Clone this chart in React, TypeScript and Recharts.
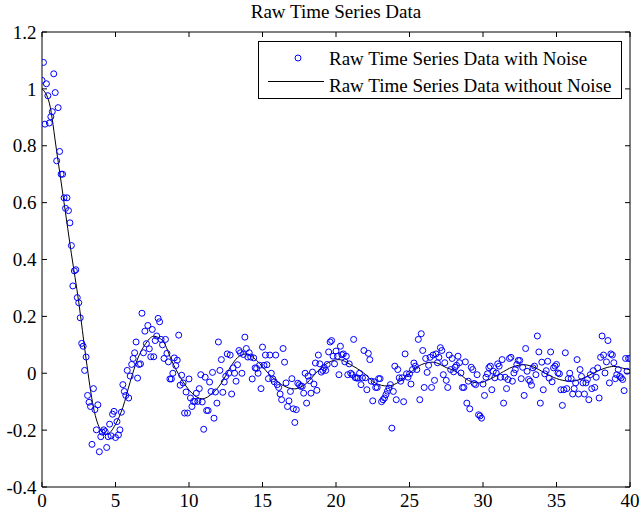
import React from 'react';
import { ComposedChart, Scatter, Line, XAxis, YAxis, Customized } from 'recharts';

// sampling interval of the noisy series (t = 0 .. 40)
const SAMPLE_STEP = 0.1;

// noisy samples, one per 0.1 s
const noisyValues = [
  1.03, 1.093, 0.876, 1.018, 0.976, 0.88, 0.902, 0.92, 1.053, 0.987,
  0.747, 0.934, 0.78, 0.7, 0.7, 0.617, 0.58, 0.617, 0.572, 0.529,
  0.449, 0.307, 0.36, 0.364, 0.266, 0.248, 0.195, 0.105, 0.095, 0.01,
  0.057, -0.078, -0.102, -0.117, -0.25, -0.054, -0.128, -0.199, -0.111, -0.276,
  -0.223, -0.207, -0.199, -0.205, -0.261, -0.223, -0.179, -0.22, -0.144, -0.134,
  -0.226, -0.17, -0.217, -0.199, -0.137, -0.04, -0.064, -0.078, 0.01, -0.087,
  -0.01, 0.031, 0.052, 0.072, 0.11, -0.017, 0.031, 0.033, 0.211, 0.072,
  0.148, 0.104, 0.168, 0.086, 0.058, 0.154, 0.058, 0.115, 0.131, 0.193,
  0.181, 0.119, 0.1, 0.052, 0.119, 0.07, 0.04, -0.02, -0.02, 0.0,
  0.054, 0.027, 0.046, 0.134, -0.042, -0.007, -0.034, -0.14, -0.066, -0.14,
  -0.02, -0.087, -0.117, -0.099, -0.099, -0.07, -0.099, -0.054, -0.005, -0.101,
  -0.197, -0.014, -0.131, -0.131, -0.031, -0.064, 0.003, -0.158, -0.066, -0.105,
  0.11, 0.01, 0.048, -0.067, -0.031, -0.011, 0.068, 0.0, 0.064, -0.073,
  0.019, 0.0, -0.028, 0.03, 0.08, 0.072, 0.0, 0.066, 0.127, 0.087,
  0.057, 0.072, 0.057, -0.02, 0.054, 0.019, 0.017, 0.0, 0.028, -0.054,
  0.092, 0.028, 0.064, 0.03, -0.019, 0.064, 0.0, -0.02, -0.03, 0.064,
  -0.04, -0.05, -0.073, -0.093, 0.087, 0.039, -0.034, -0.117, -0.097, -0.064,
  -0.019, -0.125, -0.173, -0.128, -0.035, -0.04, -0.046, -0.046, -0.07, 0.0,
  -0.105, -0.01, -0.026, -0.07, 0.004, -0.038, 0.036, -0.06, 0.064, 0.033,
  0.004, 0.01, 0.02, 0.01, 0.031, 0.075, 0.11, 0.115, 0.06, 0.033,
  0.078, 0.06, -0.005, 0.095, 0.065, 0.068, 0.04, 0.06, -0.005, 0.033,
  0.0, -0.005, 0.119, -0.015, -0.017, -0.017, 0.0, -0.04, -0.016, 0.08,
  -0.016, -0.058, 0.07, 0.048, -0.028, -0.097, -0.03, -0.05, -0.05, -0.019,
  -0.019, -0.1, -0.093, -0.087, -0.075, -0.063, -0.052, -0.04, -0.193, -0.064,
  0.025, -0.093, 0.013, -0.016, -0.028, -0.016, -0.1, 0.068, -0.002, -0.014,
  -0.002, -0.038, 0.013, 0.036, 0.025, 0.013, 0.119, -0.093, 0.139, 0.08,
  -0.05, 0.052, 0.003, 0.028, 0.056, -0.05, 0.064, -0.025, 0.068, 0.037,
  0.056, 0.09, 0.08, -0.005, 0.037, -0.025, -0.05, 0.064, 0.013, 0.052,
  0.005, 0.021, 0.028, 0.06, 0.037, 0.001, -0.05, -0.05, 0.04, -0.105,
  -0.028, -0.125, 0.021, 0.013, -0.036, -0.04, -0.005, -0.146, -0.15, -0.158,
  -0.038, -0.078, -0.014, -0.002, 0.02, 0.025, -0.058, 0.007, -0.016, 0.001,
  0.033, 0.025, -0.014, 0.048, -0.105, -0.014, -0.054, -0.022, 0.052, 0.056,
  -0.028, 0.001, 0.013, 0.031, 0.045, 0.045, -0.019, 0.021, -0.078, 0.087,
  0.007, -0.022, -0.028, -0.042, 0.019, 0.025, -0.005, 0.131, 0.075, -0.105,
  0.039, -0.058, -0.002, 0.009, 0.042, -0.017, 0.075, -0.03, 0.019, 0.025,
  0.031, 0.001, -0.002, -0.058, -0.113, -0.058, 0.072, -0.054, -0.019, 0.0,
  -0.019, -0.073, -0.054, -0.034, 0.048, -0.073, 0.013, -0.011, -0.034, -0.073,
  -0.034, -0.022, -0.093, -0.005, -0.054, 0.009, -0.05, -0.014, 0.019, -0.087,
  0.056, 0.131, 0.064, 0.001, 0.04, 0.115, -0.034, 0.068, 0.064, 0.037,
  -0.019, -0.005, 0.013, -0.011, -0.016, -0.022, -0.061, 0.052, 0.007, 0.052,
  0.052,
];

// noise-free curve, sampled at its turning points and in between
const cleanTimes = [
  0, 0.5, 1, 1.5, 2, 2.5, 3, 3.5, 4, 4.4, 5, 5.5, 6, 6.5, 7, 7.6, 8.2, 8.9,
  9.6, 10.2, 10.9, 11.6, 12.2, 12.8, 13.3, 13.9, 14.6, 15.4, 16.3, 17.2, 18,
  18.8, 19.5, 20.2, 21, 21.9, 22.7, 23.5, 24.3, 25, 25.8, 26.6, 27.5, 28.2,
  29, 29.7, 30.5, 31.2, 32, 32.8, 33.6, 34.4, 35.2, 36, 36.8, 37.6, 38.3,
  38.9, 39.5, 40,
];
const cleanValues = [
  1.0, 0.95, 0.78, 0.6, 0.42, 0.25, 0.05, -0.12, -0.2, -0.215, -0.18, -0.12,
  -0.03, 0.05, 0.1, 0.13, 0.115, 0.035, -0.03, -0.07, -0.09, -0.07, -0.035,
  0.02, 0.055, 0.068, 0.045, 0.0, -0.04, -0.055, -0.035, 0.01, 0.038, 0.048,
  0.03, 0.0, -0.035, -0.045, -0.03, 0.0, 0.03, 0.039, 0.02, 0.005, -0.025,
  -0.034, -0.02, 0.0, 0.022, 0.03, 0.018, -0.005, -0.022, -0.028, -0.018,
  0.003, 0.018, 0.024, 0.018, 0.012,
];

const xTicks = [0, 5, 10, 15, 20, 25, 30, 35, 40];
const yTicks = [-0.4, -0.2, 0, 0.2, 0.4, 0.6, 0.8, 1, 1.2];

const noisyData = noisyValues.map((y, i) => ({ x: Number((i * SAMPLE_STEP).toFixed(1)), y }));
const cleanData = cleanTimes.map((x, i) => ({ x, y: cleanValues[i] }));

const FONT = '"Liberation Serif", "Times New Roman", serif';
const tickStyle = { fill: '#000', fontSize: 19, fontFamily: FONT };
const blank = () => '';

const OpenCircle = (props: any) => {
  const { cx, cy } = props;
  if (cx == null || cy == null) return null;
  return <circle cx={cx} cy={cy} r={3} fill="none" stroke="#0000ff" strokeWidth={1} />;
};

const TitleAndLegend = () => (
  <g fontFamily={FONT} fontSize={19} fill="#000">
    <text x={336} y={18} textAnchor="middle">Raw Time Series Data</text>
    <rect x={258.5} y={41.5} width={363} height={57} fill="#fff" stroke="#000" />
    <circle cx={298} cy={58} r={3} fill="none" stroke="#0000ff" />
    <text x={329} y={65}>Raw Time Series Data with Noise</text>
    <line x1={268} y1={81.5} x2={324} y2={81.5} stroke="#000" />
    <text x={329} y={92}>Raw Time Series Data without Noise</text>
  </g>
);

const App: React.FC = () => {
  return (
    <div style={{ position: 'absolute', left: 0, top: 0, background: '#fff' }}>
      <ComposedChart width={641} height={512} margin={{ top: 31, right: 10, bottom: 0, left: 0 }}>
        <XAxis
          type="number"
          dataKey="x"
          domain={[0, 40]}
          ticks={xTicks}
          allowDataOverflow
          height={25}
          stroke="#000"
          tickSize={-5}
          tickMargin={11.5}
          tick={tickStyle}
        />
        <XAxis
          xAxisId="top"
          orientation="top"
          type="number"
          dataKey="x"
          domain={[0, 40]}
          ticks={xTicks}
          allowDataOverflow
          height={1}
          stroke="#000"
          tickSize={-5}
          tickFormatter={blank}
        />
        <YAxis
          type="number"
          dataKey="y"
          domain={[-0.4, 1.2]}
          ticks={yTicks}
          allowDataOverflow
          width={42}
          stroke="#000"
          tickSize={-5}
          tickMargin={10.5}
          tick={tickStyle}
          tickFormatter={(v: number) => String(Math.round(v * 10) / 10)}
        />
        <YAxis
          yAxisId="right"
          orientation="right"
          type="number"
          dataKey="y"
          domain={[-0.4, 1.2]}
          ticks={yTicks}
          allowDataOverflow
          width={1}
          stroke="#000"
          tickSize={-5}
          tickFormatter={blank}
        />
        <Scatter data={noisyData} shape={OpenCircle} isAnimationActive={false} />
        <Line
          data={cleanData}
          dataKey="y"
          type="monotone"
          stroke="#000"
          strokeWidth={1}
          dot={false}
          activeDot={false}
          isAnimationActive={false}
        />
        <Customized component={TitleAndLegend} />
      </ComposedChart>
    </div>
  );
};

export default App;
